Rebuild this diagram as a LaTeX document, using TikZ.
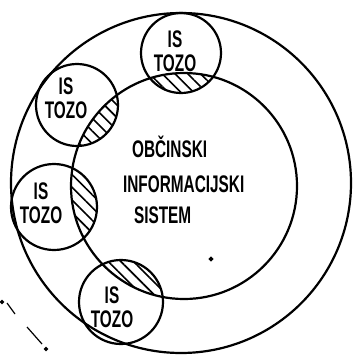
\documentclass[tikz,border=0pt]{standalone}
\usepackage{fontspec}
\setmainfont{Liberation Sans}
\usetikzlibrary{patterns.meta}
\newcommand{\uska}[1]{\scalebox{0.64}[1]{#1}}

\begin{document}
\begin{tikzpicture}[x=1pt, y=-1pt, line width=2.2pt,
    srafura/.style={pattern={Lines[angle=-45, distance=9pt, line width=1.6pt]}},
    napis/.style={font=\fontsize{24}{24}\selectfont\bfseries, align=center, inner sep=0pt}]
    \useasboundingbox (0,0) rectangle (353,357);

    % 中心点
    \coordinate (O) at (181,183);
    \coordinate (M) at (184,186);
    \coordinate (T1) at (181,53);
    \coordinate (T2) at (77,105);
    \coordinate (T3) at (54,207);
    \coordinate (T4) at (121,302);

    % 阴影部分 (交集)
    \foreach \p/\r in {T1/40, T2/41, T3/43, T4/42} {
        \begin{scope}
            \clip (M) circle (113);
            \fill[srafura] (\p) circle (\r);
        \end{scope}
    }

    % 绘制圆
    \draw (O) circle (170);
    \draw (M) circle (113);
    \foreach \p/\r in {T1/40, T2/41, T3/43, T4/42} \draw (\p) circle (\r);

    % 标注
    \node[napis] (is1) at (175,51) {\uska{IS}\\\uska{TOZO}};
    \node[napis] (is2) at (66,98) {\uska{IS}\\\uska{TOZO}};
    \node[napis] (is3) at (41,203) {\uska{IS}\\\uska{TOZO}};
    \node[napis] (is4) at (112,307) {\uska{IS}\\\uska{TOZO}};

    \node[napis, anchor=base west] (obc) at (131,157) {\uska{OBČINSKI}};
    \node[napis, anchor=base west] (inf) at (122,192) {\uska{INFORMACIJSKI}};
    \node[napis, anchor=base west] (sis) at (133,223) {\uska{SISTEM}};

    % 虚线残段
    \draw[line width=1.2pt] (7,303) -- (15,314);
    \draw[line width=1.2pt] (27,327) -- (42,344);
    \filldraw (2,302) circle (0.8);
    \filldraw (46,349) circle (0.9);
    \filldraw (211,259) circle (1.1);
\end{tikzpicture}
\end{document}
